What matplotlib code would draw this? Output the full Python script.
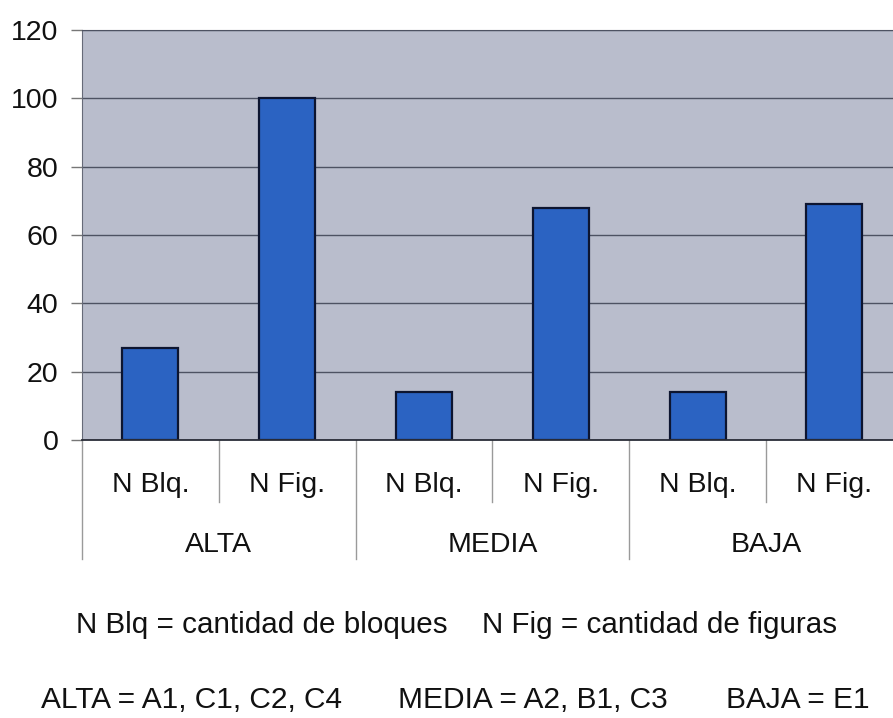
import matplotlib
matplotlib.use("Agg")
import matplotlib.pyplot as plt
from matplotlib.transforms import blended_transform_factory

plt.rcParams['font.family'] = ['Liberation Sans', 'DejaVu Sans']

groups = ["ALTA", "MEDIA", "BAJA"]
measures = ["N Blq.", "N Fig."]
values = [27, 100, 14, 68, 14, 69]
y_ticks = [0, 20, 40, 60, 80, 100, 120]
notes_1 = ["N Blq = cantidad de bloques", "N Fig = cantidad de figuras"]
notes_2 = ["ALTA = A1, C1, C2, C4", "MEDIA = A2, B1, C3", "BAJA = E1"]

W, H = 893, 718
fig = plt.figure(figsize=(W / 100, H / 100), dpi=100)
fig.patch.set_facecolor("white")

left, top, bottom, cat_w = 82, 30, 440, 136.8
n = len(values)
ax = fig.add_axes([left / W, (H - bottom) / H, n * cat_w / W, (bottom - top) / H])
ax.set_facecolor("#b9bdcc")

x = list(range(n))
ax.bar(x, values, width=0.41, color="#2b63c2", edgecolor="#0d1530", linewidth=1.6, zorder=3)

ax.set_xlim(-0.5, n - 0.5)
ax.set_ylim(0, 120)
ax.set_yticks(y_ticks)
ax.set_yticklabels([str(v) for v in y_ticks], fontsize=20.5, color="#111111")
ax.tick_params(axis="y", length=8, width=1, color="#777777", pad=9)
ax.set_xticks([])
ax.yaxis.grid(True, color="#4d5262", linewidth=1.0, zorder=1)

for side in ["top", "right"]:
    ax.spines[side].set_color("#4d5262")
ax.spines["left"].set_color("#666a78")
ax.spines["bottom"].set_color("#2a2d38")
ax.spines["bottom"].set_linewidth(1.3)
ax.spines["bottom"].set_zorder(4)

# hierarchical category axis below the plot
tr = blended_transform_factory(ax.transData, ax.transAxes)
span = bottom - top
inner_y = -62 / span
outer_y = -119 / span
for i in range(n + 1):
    xb = i - 0.5
    y_end = outer_y if i % 2 == 0 else inner_y
    ax.plot([xb, xb], [0, y_end], transform=tr, color="#9a9a9a",
            linewidth=1.0, clip_on=False)
for i in range(n):
    ax.text(i, -(492 - bottom) / span, measures[i % 2], transform=tr,
            ha="center", va="baseline", fontsize=20.5, color="#111111")
for g, name in enumerate(groups):
    ax.text(2 * g + 0.5, -(552 - bottom) / span, name, transform=tr,
            ha="center", va="baseline", fontsize=20.5, color="#111111")

# explanatory notes under the chart
for txt, xl in zip(notes_1, [76, 482]):
    fig.text(xl / W, 1 - 633 / H, txt, ha="left", va="baseline",
             fontsize=21.3, color="#111111")
for txt, xl in zip(notes_2, [41, 398, 726]):
    fig.text(xl / W, 1 - 708 / H, txt, ha="left", va="baseline",
             fontsize=21.5, color="#111111")

fig.savefig("out.png", dpi=100, facecolor="white")
